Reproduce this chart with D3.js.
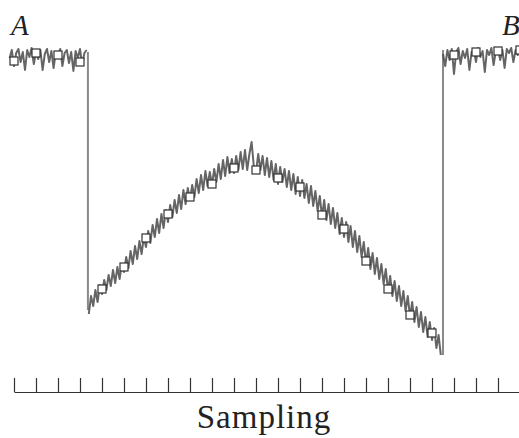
<!DOCTYPE html>
<html>
<head>
<meta charset="utf-8">
<script src="https://cdn.jsdelivr.net/npm/d3@7"></script>
<style>
    body { margin: 0; background: #fff; }
    svg { display: block; }
</style>
</head>
<body>
<div id="chart"></div>
<script>
    // sample positions with a marker (one per tick)
    var sample_idx = d3.range(24)
    var marker_vals = [319, 327, 325, 318, 91, 113, 142, 166, 183, 196, 212, 210,
                       202, 193, 165, 151, 119, 91, 65, 47, 325, 328, 329, 330]

    // raw trace, read every 0.1 sample
    var left_start = -0.2
    var left_trace = [322, 330, 314, 327, 331, 318, 328, 310, 330, 323, 332, 316, 328, 321, 330, 310, 326, 331,
                      318, 329, 312, 328, 324, 331, 314, 327, 330, 317, 328, 309, 329, 322, 331, 315, 327, 330]
    var mid_start = 3.4
    var mid_trace = [66, 84, 74, 90, 78, 95,
                     86, 100, 90, 105, 94, 110, 97, 113, 101, 116,
                     108, 123, 112, 129, 116, 134, 121, 139, 126, 143,
                     133, 149, 137, 155, 143, 161, 147, 166, 152, 170,
                     158, 175, 163, 180, 167, 185, 171, 190, 176, 192,
                     180, 195, 183, 201, 187, 205, 190, 209, 194, 208,
                     195, 211, 198, 216, 201, 220, 204, 223, 207, 221,
                     207, 224, 210, 228, 211, 230, 210, 226, 238, 214,
                     208, 226, 210, 224, 205, 222, 203, 219, 200, 216,
                     196, 213, 198, 211, 193, 209, 190, 206, 186, 203,
                     184, 200, 182, 196, 177, 194, 174, 189, 169, 184,
                     163, 180, 160, 176, 156, 172, 152, 167, 146, 162,
                     143, 158, 138, 154, 133, 149, 128, 144, 123, 138,
                     116, 132, 111, 127, 106, 122, 101, 116, 96, 111,
                     89, 104, 84, 99, 79, 94, 74, 89, 69, 84,
                     63, 78, 58, 73, 53, 68, 48, 63, 43, 58,
                     40, 52, 32, 45, 25]
    var right_start = 19.5
    var right_trace = [326, 314, 330, 320, 331, 306, 328, 332, 316, 329, 322, 331, 310, 328, 330, 318, 332, 323, 329,
                       308, 330, 325, 332, 315, 329, 331, 320, 330, 312, 331, 327, 332, 318, 330, 325, 331, 316, 329]
    // the two jumps of the signal: [sample, from, to]
    var jumps = [[3.36, 328, 70], [19.5, 25, 330]]

    var width = 519
    var height = 438
    var svg = d3.select("#chart").append("svg").attr("width", width).attr("height", height)

    var x = d3.scaleLinear().domain([0, 23]).range([14, 520])
    var y = d3.scaleLinear().domain([0, 330]).range([380, 50])

    function to_points(start, vals){
        return vals.map(function(v, i){ return [start + i * 0.1, v] })
    }
    var line = d3.line().x(function(d){ return x(d[0]) }).y(function(d){ return y(d[1]) })

    // vertical jumps, lighter grey
    svg.selectAll("line.jump").data(jumps).enter().append("line")
        .attr("class", "jump")
        .attr("x1", function(d){ return x(d[0]) }).attr("x2", function(d){ return x(d[0]) })
        .attr("y1", function(d){ return y(d[1]) }).attr("y2", function(d){ return y(d[2]) })
        .attr("stroke", "#8a8a8a").attr("stroke-width", 2)

    var traces = [to_points(left_start, left_trace), to_points(mid_start, mid_trace), to_points(right_start, right_trace)]
    svg.selectAll("path.trace").data(traces).enter().append("path")
        .attr("class", "trace")
        .attr("d", line)
        .attr("fill", "none")
        .attr("stroke", "#4a4a4a")
        .attr("stroke-width", 2)
        .attr("stroke-linejoin", "round")
        .attr("opacity", 0.85)

    svg.selectAll("rect.mark").data(sample_idx).enter().append("rect")
        .attr("class", "mark")
        .attr("x", function(d){ return x(d) - 4 })
        .attr("y", function(d){ return y(marker_vals[d]) - 4 })
        .attr("width", 8).attr("height", 8)
        .attr("fill", "#fff")
        .attr("stroke", "#333")
        .attr("stroke-width", 1.2)

    // tick axis, ticks pointing up
    var axis = d3.axisTop(x).tickValues(sample_idx).tickSize(14).tickSizeOuter(0).tickFormat("")
    var g = svg.append("g").attr("transform", "translate(0,392)").call(axis)
    g.select(".domain").attr("stroke", "#333").attr("stroke-width", 1.2)
    g.selectAll(".tick line").attr("stroke", "#333").attr("stroke-width", 1.2)

    var serif = "'Liberation Serif', 'DejaVu Serif', serif"
    svg.append("text").attr("x", 264).attr("y", 428)
        .attr("text-anchor", "middle")
        .style("font-family", serif)
        .style("font-size", "33px").style("letter-spacing", "1px").attr("fill", "#222")
        .text("Sampling")

    svg.append("text").attr("x", 11).attr("y", 35)
        .style("font-family", serif).style("font-style", "italic")
        .style("font-size", "29px").attr("fill", "#222")
        .text("A")
    svg.append("text").attr("x", 502).attr("y", 35)
        .style("font-family", serif).style("font-style", "italic")
        .style("font-size", "29px").attr("fill", "#222")
        .text("B")
</script>
</body>
</html>
